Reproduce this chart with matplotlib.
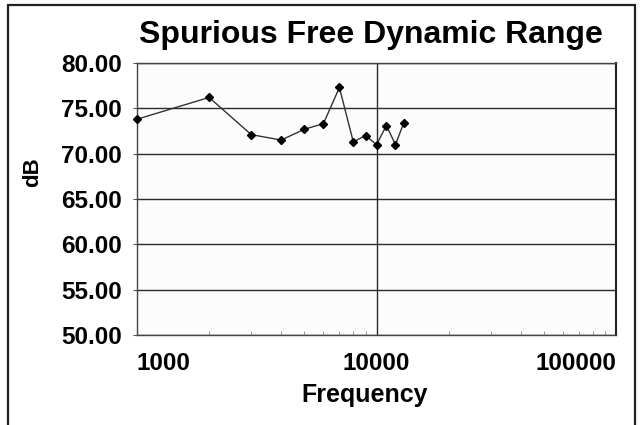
import matplotlib
matplotlib.use('Agg')
import matplotlib.pyplot as plt
from matplotlib.patches import Rectangle
from matplotlib.ticker import FixedLocator, LogLocator, NullFormatter

plt.rcParams['font.family'] = ['Liberation Sans', 'DejaVu Sans']
plt.rcParams['font.weight'] = 'bold'

# data
freq = [1000, 2000, 3000, 4000, 5000, 6000, 7000, 8000, 9000, 10000, 11000, 12000, 13000]
sfdr = [73.8, 76.2, 72.1, 71.5, 72.7, 73.3, 77.3, 71.3, 72.0, 71.0, 73.1, 71.0, 73.4]

y_ticks = [50, 55, 60, 65, 70, 75, 80]
x_ticks = [1000, 10000, 100000]
x_tick_labels = ['1000', '10000', '100000']

fig = plt.figure(figsize=(6.41, 4.25), dpi=100)
ax = fig.add_axes([137/641, 1 - 335/425, 479/641, 272/425])
ax.set_facecolor('#fcfcfc')

# outer frame around the whole chart
fig.patches.append(Rectangle((8/641, -0.2), 627/641, 1.2 - 5/425, transform=fig.transFigure,
                             fill=False, edgecolor='#222222', linewidth=1.6))

ax.set_xscale('log')
ax.set_xlim(1000, 100000)
ax.set_ylim(50, 80)

for y in y_ticks:
    ax.axhline(y, color='#2a2a2a', linewidth=1.0, zorder=1)
ax.axvline(10000, color='#2a2a2a', linewidth=1.0, zorder=1)

ax.plot(freq, sfdr, color='#333333', linewidth=1.0, marker='D', markersize=4,
        markerfacecolor='black', markeredgecolor='black', zorder=3, clip_on=False)

ax.set_yticks(y_ticks)
ax.set_yticklabels(['%.2f' % v for v in y_ticks])
ax.xaxis.set_major_locator(FixedLocator(x_ticks))
ax.set_xticklabels(x_tick_labels)
ax.xaxis.set_minor_locator(LogLocator(base=10, subs=range(2, 10)))
ax.xaxis.set_minor_formatter(NullFormatter())

labs = ax.get_xticklabels()
labs[0].set_horizontalalignment('left')
labs[-1].set_horizontalalignment('right')

ax.tick_params(axis='y', length=3, pad=8, labelsize=17.5, color='#555555')
ax.tick_params(axis='x', which='major', length=0, pad=12, labelsize=17.5)
ax.tick_params(axis='x', which='minor', direction='in', length=3, color='#888888')

for s in ax.spines.values():
    s.set_color('#444444')
    s.set_linewidth(1.0)
ax.spines['right'].set_color('#222222')
ax.spines['right'].set_linewidth(1.5)

ax.set_xlabel('Frequency', fontsize=18, fontweight='bold')
ax.xaxis.set_label_coords((365 - 137) / 479, (335 - 383) / 272)
ax.set_ylabel('dB', fontsize=16, fontweight='bold')
ax.yaxis.set_label_coords((43 - 137) / 479, (335 - 172) / 272)

fig.text(371/641, 1 - 35/425, 'Spurious Free Dynamic Range', ha='center', va='center',
         fontsize=23, fontweight='bold')

fig.savefig('out.png', dpi=100)
